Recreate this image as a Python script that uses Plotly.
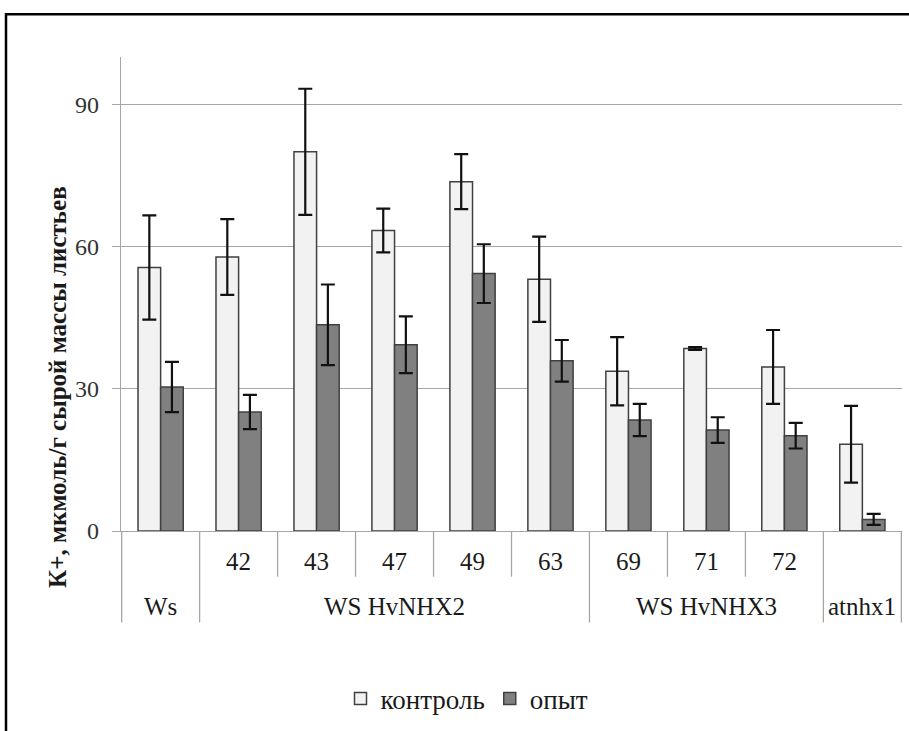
import plotly.graph_objects as go

# ---- data ----
categories = ["Ws", "42", "43", "47", "49", "63", "69", "71", "72", "atnhx1"]
sub_labels = ["", "42", "43", "47", "49", "63", "69", "71", "72", ""]
group_names = ["Ws", "WS HvNHX2", "WS HvNHX3", "atnhx1"]
group_first = [0, 1, 6, 9]
group_last = [0, 5, 8, 9]

control = [55.6, 57.8, 80.0, 63.4, 73.7, 53.1, 33.7, 38.5, 34.6, 18.3]
control_err = [11.0, 8.0, 13.3, 4.6, 5.8, 9.0, 7.2, 0.3, 7.8, 8.1]
opyt = [30.4, 25.1, 43.5, 39.3, 54.3, 35.9, 23.4, 21.3, 20.1, 2.45]
opyt_err = [5.3, 3.6, 8.5, 6.0, 6.2, 4.4, 3.4, 2.7, 2.7, 1.15]

y_ticks = [0, 30, 60, 90]
series_names = ["контроль", "опыт"]
y_title = "К+, мкмоль/г сырой массы листьев"

FONT = "Liberation Serif, Times New Roman, DejaVu Serif, serif"
GRID = "#A6A6A6"
TXT = "#1a1a1a"

fig = go.Figure()
fig.add_trace(go.Bar(
    x=categories, y=control, name=series_names[0],
    marker=dict(color="#F2F2F2", line=dict(color="#404040", width=1.5)),
    error_y=dict(type="data", array=control_err, visible=True,
                 color="#111111", thickness=2.2, width=7),
))
fig.add_trace(go.Bar(
    x=categories, y=opyt, name=series_names[1],
    marker=dict(color="#808080", line=dict(color="#404040", width=1.5)),
    error_y=dict(type="data", array=opyt_err, visible=True,
                 color="#111111", thickness=2.2, width=7),
))

# plot area geometry (pixels) -> paper helpers
W, H = 909, 731
L, R, T, B = 121, 7, 57, 197
pw, ph = W - L - R, H - T - B


def py(ypix):
    return (H - B - ypix) / ph


def px(xpix):
    return (xpix - L) / pw


shapes = []
annotations = []

# category separators
group_bounds = set([group_first[0] - 0.5] + [g + 0.5 for g in group_last])
for i in range(len(categories) + 1):
    xb = i - 0.5
    long = xb in group_bounds
    shapes.append(dict(type="line", xref="x", yref="paper",
                       x0=xb, x1=xb, y0=0, y1=py(626 if long else 580),
                       line=dict(color=GRID, width=1.3)))

# level-1 labels
for i, lab in enumerate(sub_labels):
    if lab:
        annotations.append(dict(x=i, y=py(565), xref="x", yref="paper",
                                text=lab, showarrow=False,
                                font=dict(family=FONT, size=25, color=TXT),
                                xanchor="center", yanchor="middle"))
# level-2 labels
for name, a, b in zip(group_names, group_first, group_last):
    annotations.append(dict(x=(a + b) / 2, y=py(610), xref="x", yref="paper",
                            text=name, showarrow=False,
                            font=dict(family=FONT, size=25, color=TXT),
                            xanchor="center", yanchor="middle"))

# y axis title
annotations.append(dict(x=px(58), y=py(389), xref="paper", yref="paper",
                        text="<b>" + y_title + "</b>", textangle=-90,
                        showarrow=False,
                        font=dict(family=FONT, size=25, color=TXT),
                        xanchor="center", yanchor="middle"))

# outer frame
shapes.append(dict(type="rect", xref="paper", yref="paper",
                   x0=px(6), x1=px(960), y0=py(790), y1=py(14),
                   line=dict(color="#000000", width=2.5), layer="below"))

fig.update_layout(
    width=W, height=H,
    margin=dict(l=L, r=R, t=T, b=B),
    plot_bgcolor="white", paper_bgcolor="white",
    barmode="group", bargap=0.42, bargroupgap=0,
    font=dict(family=FONT, color=TXT),
    showlegend=True,
    legend=dict(orientation="h", x=px(467), xanchor="center",
                y=py(703), yanchor="middle",
                font=dict(family=FONT, size=27, color=TXT),
                itemwidth=30, traceorder="normal"),
    shapes=shapes, annotations=annotations,
    xaxis=dict(type="category", showticklabels=False, ticks="",
               showline=True, linecolor=GRID, linewidth=1.3,
               showgrid=False, zeroline=False),
    yaxis=dict(range=[0, 100], tickvals=y_ticks, ticks="outside",
               ticklen=8, tickcolor=GRID, tickwidth=1.3,
               showline=True, linecolor=GRID, linewidth=1.3,
               showgrid=True, gridcolor=GRID, gridwidth=1.3,
               zeroline=False, ticklabelstandoff=8,
               tickfont=dict(family=FONT, size=24, color="#333333")),
)

fig.write_html("out.html",
               config={"displayModeBar": False},
               post_script="document.body.style.margin='0';"
                           "document.body.style.overflow='hidden';")
